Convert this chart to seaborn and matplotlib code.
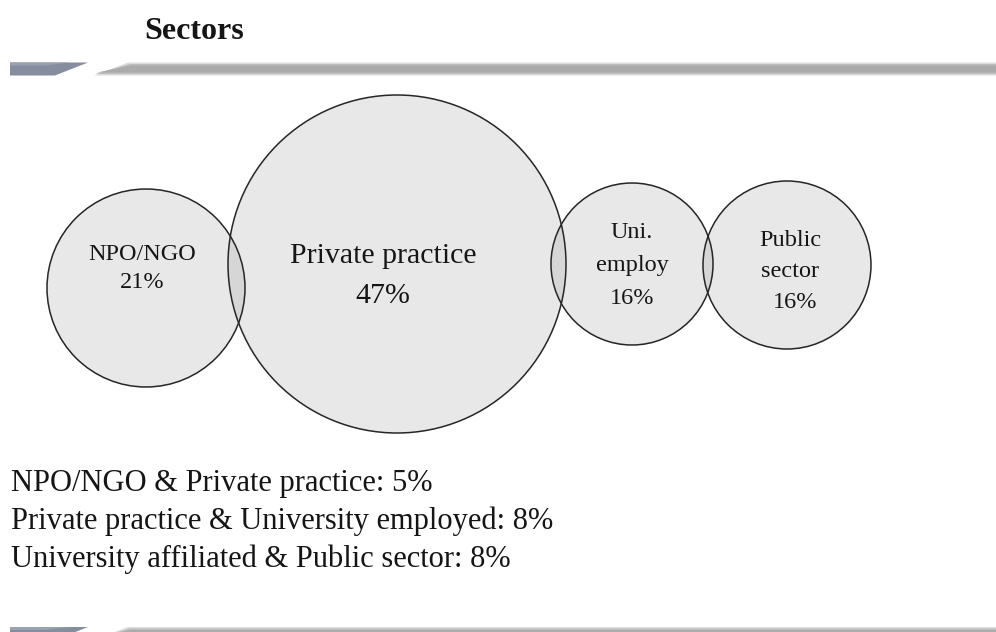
import matplotlib
matplotlib.use("Agg")
import matplotlib.pyplot as plt
from matplotlib.patches import Circle, Polygon
import seaborn as sns

# --- data -------------------------------------------------------------
sectors = ["NPO/NGO", "Private practice", "Uni.\nemploy", "Public\nsector"]
shares = [21, 47, 16, 16]

overlap_pairs = [
    "NPO/NGO & Private practice",
    "Private practice & University employed",
    "University affiliated & Public sector",
]
overlap_shares = [5, 8, 8]

title = "Sectors"

# --- layout (pixel coordinates, y grows downward) ----------------------
centers = [(146, 288), (397, 264), (632, 264), (787, 265)]
radii = [99, 169, 81, 84]
# x of label column, y of first line, line step, font size, x nudge of the % line
label_x = [142, 383, 632, 790]
label_y0 = [255, 256, 232, 240]
label_step = [28, 40, 33, 31.5]
label_size = [17.5, 21.5, 17.5, 17.5]
pct_dx = [0, 0, 0, 5]

W, H = 996, 632

sns.set_theme(style="white")
plt.rcParams["font.family"] = ["Liberation Serif", "DejaVu Serif"]

fig = plt.figure(figsize=(W / 100, H / 100), dpi=100)
ax = fig.add_axes([0, 0, 1, 1])
ax.set_xlim(0, W)
ax.set_ylim(H, 0)
ax.set_aspect("equal")
ax.axis("off")

TEXT = "#151515"


def header_bar(y0, y1):
    # slate-blue lead-in with a slanted tail
    ax.add_patch(Polygon([(10, y0), (88, y0), (55, y1), (10, y1)],
                         closed=True, facecolor="#858d9e", edgecolor="none", zorder=1))
    ax.add_patch(Polygon([(10, y0), (70, y0), (45, y0 + 3), (10, y0 + 3)],
                         closed=True, facecolor="#9aa1b0", edgecolor="none", zorder=1.1))
    # long grey rule with soft edges
    for pad, col in [(0.0, "#dcdcdc"), (1.5, "#bdbdbd"), (3.0, "#ababab")]:
        ax.add_patch(Polygon([(94 + pad, y1 - pad), (128 + pad, y0 + pad),
                              (W, y0 + pad), (W, y1 - pad)],
                             closed=True, facecolor=col, edgecolor="none", zorder=1))


header_bar(62.5, 75.5)
header_bar(627, 640)

ax.text(144, 39, title, fontsize=23, fontweight="bold", color=TEXT,
        ha="left", va="baseline")

# circles: translucent grey so overlaps read darker
for (cx, cy), r in zip(centers, radii):
    ax.add_patch(Circle((cx, cy), r, facecolor=(0.6, 0.6, 0.6, 0.22),
                        edgecolor="none", zorder=2))
for (cx, cy), r in zip(centers, radii):
    ax.add_patch(Circle((cx, cy), r, facecolor="none", edgecolor="#262626",
                        linewidth=1.1, zorder=3))

for name, val, lx, ly, step, fs, dx in zip(sectors, shares, label_x, label_y0,
                                            label_step, label_size, pct_dx):
    lines = name.split("\n")
    for k, line in enumerate(lines):
        ax.text(lx, ly + k * step, line, fontsize=fs, color=TEXT,
                ha="center", va="center", zorder=4)
    ax.text(lx + dx, ly + len(lines) * step, f"{val}%", fontsize=fs, color=TEXT,
            ha="center", va="center", zorder=4)

# pairwise overlap notes
for i, (pair, val) in enumerate(zip(overlap_pairs, overlap_shares)):
    ax.text(11, 491 + i * 38, f"{pair}: {val}%", fontsize=22, color=TEXT,
            ha="left", va="baseline")

fig.savefig("out.png", dpi=100, facecolor="white")
